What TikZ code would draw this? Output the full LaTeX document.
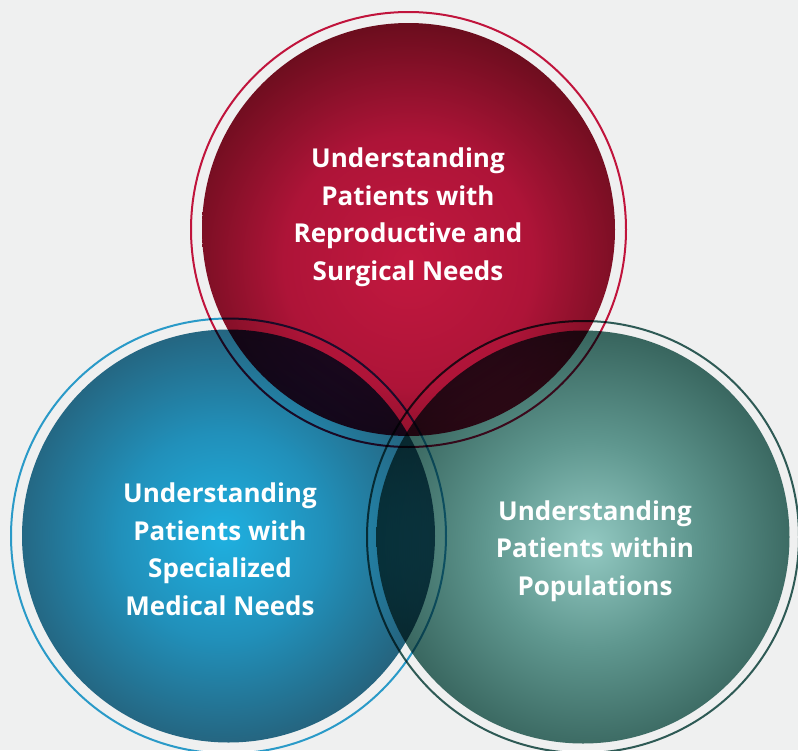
\documentclass[tikz,border=0pt]{standalone}
\usepackage{fontspec}
\setmainfont[RawFeature=-liga]{Open Sans}
\definecolor{bgc}{HTML}{EFF0F0}
\definecolor{redA}{HTML}{C2183F}
\definecolor{redB}{HTML}{AE1438}
\definecolor{redC}{HTML}{6A0D1D}
\definecolor{bluA}{HTML}{1FB0E0}
\definecolor{bluB}{HTML}{2190BA}
\definecolor{bluC}{HTML}{25627C}
\definecolor{grnA}{HTML}{93C9C2}
\definecolor{grnB}{HTML}{5F978F}
\definecolor{grnC}{HTML}{37645D}
\definecolor{redring}{HTML}{C0143C}
\definecolor{bluring}{HTML}{2A9AC8}
\definecolor{grnring}{HTML}{2E5A55}
\pgfdeclareradialshading{redsh}{\pgfpoint{0bp}{0bp}}{color(0bp)=(redA); color(13bp)=(redB); color(25bp)=(redC); color(50bp)=(redC)}
\pgfdeclareradialshading{blush}{\pgfpoint{0bp}{0bp}}{color(0bp)=(bluA); color(12bp)=(bluB); color(25bp)=(bluC); color(50bp)=(bluC)}
\pgfdeclareradialshading{grnsh}{\pgfpoint{0bp}{0bp}}{color(0bp)=(grnA); color(12bp)=(grnB); color(25bp)=(grnC); color(50bp)=(grnC)}
\tikzset{
  ringline/.style={line width=2pt},
  label/.style={text=white, font=\bfseries\fontsize{26}{37.5}\selectfont, align=center, inner sep=0pt}
}
\begin{document}
\begin{tikzpicture}[x=1pt,y=-1pt]
\fill[bgc] (0,0) rectangle (798,750);
\useasboundingbox (0,0) rectangle (798,750);
\coordinate (rc) at (408.5,229.5);
\coordinate (bc) at (228.5,536);
\coordinate (gc) at (583,537);
\begin{scope}[blend group=multiply]
  % red
  \begin{scope}
    \clip (rc) circle (206.5);
    \shade[shading=redsh] (408.5,262) circle (240);
  \end{scope}
  \draw[ringline, redring] (rc) circle (217.5);
  % blue
  \begin{scope}
    \clip (bc) circle (206.5);
    \shade[shading=blush] (222,536) circle (215);
  \end{scope}
  \draw[ringline, bluring] (bc) circle (217.5);
  % green
  \begin{scope}
    \clip (gc) circle (206.5);
    \shade[shading=grnsh] (590,545) circle (215);
  \end{scope}
  \draw[ringline, grnring] (gc) circle (216);
\end{scope}
\node[label] (rt) at (408,217) {Understanding\\Patients with\\Reproductive and\\Surgical Needs};
\node[label] (bt) at (220,549) {Understanding\\Patients with\\Specialized\\Medical Needs};
\node[label] (gt) at (595,551) {Understanding\\Patients within\\Populations};
\end{tikzpicture}
\end{document}
